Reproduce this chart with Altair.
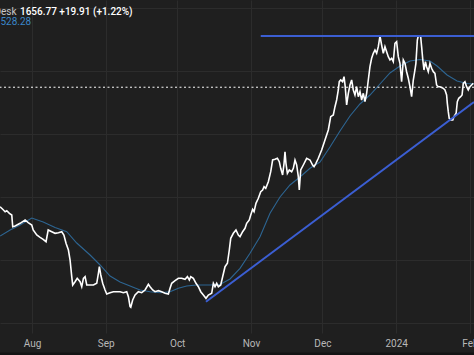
import altair as alt
import pandas as pd

START = "2023-08-01"  # day 0 of the day offsets below

# White price line: day offset from 1 Aug 2023, close
price_day = [
    -13.4, -12.3, -11.3, -10.6, -9.5, -8.5, -8.1, -7.1, -5.0, -2.9, -1.6, -0.1,
    0.5, 2.0, 3.4, 4.7, 5.9, 6.8, 8.3, 9.7, 11.1, 12.5, 13.4, 14.3,
    15.3, 16.0, 16.7, 17.1, 18.1, 19.0, 20.2, 20.9, 21.6, 22.3, 23.0, 24.4,
    25.8, 27.2, 27.9, 28.3, 28.9, 29.7, 30.7, 31.4, 32.8, 34.2, 35.6, 37.0,
    38.4, 39.8, 40.5, 41.2, 41.5, 42.3, 43.3, 44.7, 46.1, 47.5, 48.9, 49.6,
    50.7, 51.7, 53.1, 54.5, 55.9, 57.3, 58.0, 58.7, 60.1, 61.5, 62.9, 64.3,
    65.3, 66.1, 66.7, 67.8, 68.9, 69.9, 70.9, 72.0, 73.1, 74.1, 75.5, 76.2,
    76.9, 77.6, 78.3, 79.3, 80.1, 81.1, 82.1, 82.9, 83.5, 84.6, 85.7, 86.7,
    87.4, 88.5, 89.5, 90.2, 91.3, 91.9, 92.7, 93.3, 94.1, 95.1, 96.1, 96.9,
    97.5, 98.2, 99.3, 100.3, 101.1, 102.1, 103.1, 103.9, 104.5, 105.3, 105.9, 106.3,
    106.7, 107.3, 108.1, 109.1, 109.8, 110.5, 111.2, 111.9, 112.3, 112.9, 114.0, 115.4,
    116.8, 117.9, 118.5, 119.3, 120.3, 121.7, 123.1, 124.5, 125.5, 126.6, 127.3, 128.0,
    128.7, 129.1, 129.7, 130.5, 131.1, 131.6, 132.2, 132.9, 133.6, 134.3, 135.0, 135.7,
    136.4, 137.1, 137.8, 138.5, 139.2, 139.9, 140.6, 141.3, 142.0, 142.7, 143.4, 144.1,
    144.8, 145.5, 146.2, 146.9, 147.6, 148.3, 149.0, 149.7, 150.4, 151.1, 151.8, 152.5,
    153.2, 153.9, 154.6, 155.3, 156.0, 156.7, 157.4, 158.1, 158.8, 159.5, 160.2, 160.9,
    161.3, 161.9, 162.3, 162.7, 163.3, 163.7, 164.2, 164.7, 165.3, 165.8, 166.5, 167.2,
    167.9, 168.6, 169.3, 170.0, 170.7, 171.4, 172.8, 173.5, 174.2, 174.5, 174.9, 175.3,
    175.9, 176.8, 177.3, 178.2, 178.7, 179.3, 180.1, 180.7, 181.2, 181.9, 182.6, 183.3,
    184.0, 184.7, 185.4,
]
price_close = [
    1537.3, 1534.7, 1532.3, 1533.3, 1530.7, 1529.0, 1517.3, 1518.0, 1520.7, 1524.0, 1521.3, 1519.0,
    1514.0, 1509.0, 1506.7, 1504.7, 1502.3, 1514.0, 1512.3, 1510.7, 1511.3, 1512.3, 1509.0, 1500.7,
    1494.0, 1484.0, 1467.3, 1459.0, 1462.3, 1465.7, 1462.3, 1457.3, 1465.7, 1467.3, 1459.0, 1459.0,
    1459.0, 1460.7, 1470.7, 1477.3, 1469.0, 1460.7, 1454.0, 1450.0, 1451.3, 1452.3, 1452.3, 1452.3,
    1451.3, 1452.3, 1447.3, 1437.3, 1436.7, 1444.0, 1449.0, 1452.3, 1451.3, 1454.0, 1459.7, 1457.3,
    1454.0, 1452.3, 1453.3, 1452.3, 1450.7, 1450.0, 1455.7, 1460.7, 1463.3, 1465.7, 1465.7, 1464.7,
    1467.3, 1464.0, 1467.3, 1465.7, 1460.7, 1457.3, 1452.3, 1449.0, 1445.7, 1449.0, 1450.7, 1460.7,
    1457.3, 1460.7, 1457.3, 1459.0, 1467.3, 1477.3, 1480.7, 1494.0, 1505.7, 1510.7, 1514.0, 1509.0,
    1507.3, 1512.3, 1515.7, 1520.7, 1524.0, 1529.0, 1534.7, 1532.3, 1540.7, 1545.7, 1552.3, 1554.0,
    1557.3, 1555.7, 1562.3, 1572.3, 1584.0, 1584.7, 1585.7, 1582.3, 1575.7, 1569.0, 1580.7, 1592.3,
    1580.7, 1570.7, 1574.0, 1572.3, 1575.7, 1584.0, 1579.0, 1567.3, 1554.0, 1574.0, 1579.0, 1585.7,
    1584.0, 1579.0, 1577.3, 1580.7, 1585.7, 1594.0, 1604.0, 1614.0, 1627.3, 1629.0, 1637.3, 1644.0,
    1654.0, 1662.3, 1664.0, 1662.3, 1667.3, 1657.3, 1639.0, 1650.7, 1659.0, 1664.0, 1654.0, 1649.0,
    1657.3, 1647.3, 1652.3, 1644.0, 1650.7, 1642.3, 1650.7, 1664.0, 1677.3, 1685.7, 1690.7, 1694.0,
    1690.7, 1697.3, 1708.0, 1699.0, 1690.7, 1697.3, 1692.3, 1687.3, 1684.0, 1685.7, 1682.3, 1700.7,
    1702.3, 1687.3, 1680.7, 1662.3, 1684.0, 1680.7, 1672.3, 1665.7, 1657.3, 1647.3, 1664.0, 1674.0,
    1680.7, 1704.0, 1708.0, 1708.0, 1707.3, 1697.3, 1684.0, 1674.0, 1682.3, 1677.3, 1672.3, 1680.7,
    1675.7, 1672.3, 1670.7, 1659.0, 1657.3, 1657.3, 1655.7, 1654.0, 1649.0, 1640.7, 1632.3, 1625.7,
    1624.0, 1624.0, 1627.3, 1630.7, 1642.3, 1645.7, 1647.3, 1649.0, 1660.7, 1662.3, 1657.3, 1654.0,
    1657.3, 1659.0, 1660.7,
]

# Moving average (thin blue line)
ma_day = [-13.4, -9.2, -5.0, -0.1, 4.7, 9.7, 14.6, 18.8, 24.4, 28.6, 32.8, 37.0,
          41.2, 45.4, 49.6, 53.8, 58.0, 61.5, 65.0, 69.2, 74.8, 79.0, 83.2, 87.4,
          91.6, 95.8, 100.0, 104.2, 108.4, 112.6, 116.8, 121.0, 125.2, 129.4, 133.6, 137.8,
          142.0, 146.2, 150.4, 154.6, 158.8, 163.0, 167.2, 170.2, 174.4, 178.6, 182.8, 185.7]
ma_value = [1508.0, 1514.0, 1519.0, 1526.0, 1522.0, 1516.5, 1512.3, 1501.0, 1489.0, 1479.0, 1468.0, 1462.0,
            1458.0, 1454.0, 1452.3, 1451.3, 1452.3, 1455.7, 1458.0, 1459.0, 1459.0, 1459.5, 1465.0, 1475.7,
            1490.7, 1507.3, 1530.7, 1547.0, 1559.0, 1567.0, 1575.7, 1582.0, 1597.0, 1613.0, 1628.0, 1640.0,
            1649.0, 1660.0, 1671.0, 1678.0, 1683.0, 1684.5, 1683.0, 1678.0, 1669.0, 1663.0, 1660.5, 1660.0]

# Drawn support trend line and resistance line
trend_day = [73.1, 185.7]
trend_value = [1442.3, 1642.0]
resist_day = [96.1, 185.7]
resist_value = [1708.0, 1708.0]

last_price = 1656.77
header_texts = ["Desk", "1656.77  +19.91 (+1.22%)", "528.28"]
month_labels = ["Aug", "Sep", "Oct", "Nov", "Dec", "2024", "Feb"]
grid_prices = [1421, 1453, 1484, 1516, 1547, 1579, 1610, 1642, 1673, 1705, 1736]

BG = "#1f1f1f"
GRID = "#2c2c2c"
FONT = "Roboto"


def to_dates(days):
    return (pd.Timestamp(START) + pd.to_timedelta(pd.Series(days), unit="D")).dt.round("min")


price_df = pd.DataFrame({"date": to_dates(price_day), "close": price_close})
ma_df = pd.DataFrame({"date": to_dates(ma_day), "ma": ma_value})
trend_df = pd.DataFrame({"date": to_dates(trend_day), "v": trend_value})
resist_df = pd.DataFrame({"date": to_dates(resist_day), "v": resist_value})
last_df = pd.DataFrame({"p": [last_price]})

x_scale = alt.Scale(domain=[alt.DateTime(year=2023, month=7, date=18, hours=13, minutes=19),
                            alt.DateTime(year=2024, month=2, date=2, hours=17, minutes=2)])
y_scale = alt.Scale(domain=[1411, 1744], nice=False, zero=False)

month_values = [alt.DateTime(year=2023, month=m, date=1) for m in (8, 9, 10, 11, 12)] + \
               [alt.DateTime(year=2024, month=1, date=1), alt.DateTime(year=2024, month=2, date=1)]
label_expr = "[" + ",".join("'%s'" % s for s in month_labels) + "][(month(datum.value) + 5) % 12]"

x_axis = alt.Axis(values=month_values, labelExpr=label_expr, grid=True, gridColor=GRID,
                  domain=False, ticks=False, labelColor="#b8b8b8", labelFontSize=10,
                  labelFont=FONT, labelPadding=5, labelFlush=False, labelOverlap=False,
                  title=None)
y_axis = alt.Axis(values=grid_prices, labels=False, ticks=False, domain=False, grid=True,
                  gridColor=GRID, title=None)

ma_line = alt.Chart(ma_df).mark_line(color="#2d6592", strokeWidth=1.1, clip=True).encode(
    x=alt.X("date:T", scale=x_scale, axis=x_axis),
    y=alt.Y("ma:Q", scale=y_scale, axis=y_axis),
)
price_line = alt.Chart(price_df).mark_line(color="#ffffff", strokeWidth=1.6, clip=True).encode(
    x=alt.X("date:T", scale=x_scale, title=None),
    y=alt.Y("close:Q", scale=y_scale, title=None),
)
trend_line = alt.Chart(trend_df).mark_line(color="#3b5ed2", strokeWidth=2, clip=True).encode(
    x=alt.X("date:T", scale=x_scale, title=None),
    y=alt.Y("v:Q", scale=y_scale, title=None),
)
resist_line = alt.Chart(resist_df).mark_line(color="#3b5ed2", strokeWidth=2, clip=True).encode(
    x=alt.X("date:T", scale=x_scale, title=None),
    y=alt.Y("v:Q", scale=y_scale, title=None),
)
last_rule = alt.Chart(last_df).mark_rule(color="#ffffff", strokeWidth=1, strokeDash=[2, 2.5]).encode(
    y=alt.Y("p:Q", scale=y_scale, title=None),
)
bottom_edge = alt.Chart(last_df).mark_rule(color="#141414", strokeWidth=3).encode(
    x=alt.value(0), x2=alt.value(474), y=alt.value(354),
)

hdr1 = alt.Chart(pd.DataFrame({"t": [header_texts[0]]})).mark_text(
    align="right", baseline="middle", font=FONT, fontSize=10, color="#c8c8c8"
).encode(text="t:N", x=alt.value(16.5), y=alt.value(12))
hdr2 = alt.Chart(pd.DataFrame({"t": [header_texts[1]]})).mark_text(
    align="left", baseline="middle", font=FONT, fontSize=10, fontWeight=500, color="#ffffff"
).encode(text="t:N", x=alt.value(20), y=alt.value(12))
hdr3 = alt.Chart(pd.DataFrame({"t": [header_texts[2]]})).mark_text(
    align="left", baseline="middle", font=FONT, fontSize=10, color="#3a86c8"
).encode(text="t:N", x=alt.value(0.5), y=alt.value(22))

chart = alt.layer(
    ma_line, price_line, trend_line, resist_line, last_rule, bottom_edge, hdr1, hdr2, hdr3
).properties(
    width=474, height=333, background=BG,
    padding={"left": 0, "top": 0, "right": 0, "bottom": 22},
    autosize=alt.AutoSizeParams(type="none"),
).configure_view(stroke=None)

chart.save("out.html", embed_options={"renderer": "svg", "actions": False})
